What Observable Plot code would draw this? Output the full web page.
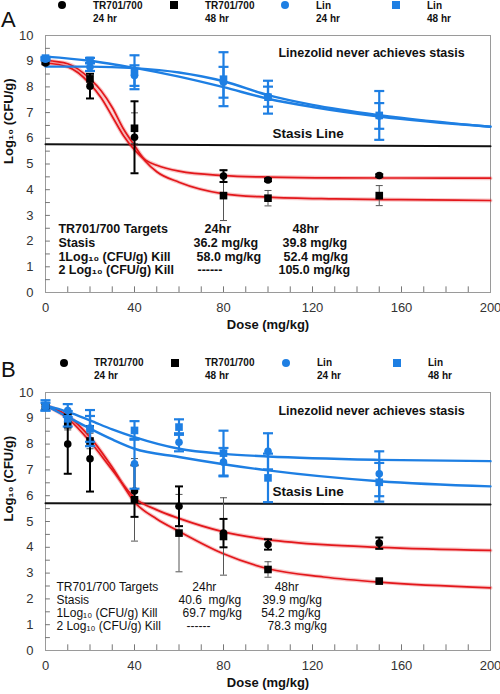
<!DOCTYPE html>
<html><head><meta charset="utf-8">
<script src="https://cdn.jsdelivr.net/npm/d3@7"></script>
<script src="https://cdn.jsdelivr.net/npm/@observablehq/plot@0.6"></script>
<style>
body{margin:0;background:#fff;font-family:"Liberation Sans",Arial,sans-serif;}
#wrap{position:relative;width:500px;height:694px;overflow:hidden;background:#fff;}
.abs{position:absolute;white-space:nowrap;}
.lg{font-size:10px;font-weight:bold;color:#111;line-height:13px;}
.pl{font-size:22px;color:#111;line-height:22px;}
</style></head><body><div id="wrap"></div>
<script>
// ---------- legend ----------
const legendSeries = ["TR701/700", "TR701/700", "Lin", "Lin"];
const legendTimes = ["24 hr", "48 hr", "24 hr", "48 hr"];
const legendSymbols = ["circle", "square", "circle", "square"];
const BLUE = "#1e7fe3", RED = "#e3171b";
const legendColors = ["#000", "#000", BLUE, BLUE];

// ---------- axes ----------
const xTicks = [0, 40, 80, 120, 160, 200];
const yTicks = [0, 1, 2, 3, 4, 5, 6, 7, 8, 9, 10];
const xMinor = d3.range(10, 200, 10);
const yMinor = d3.range(0.5, 10, 0.5);

// ---------- Panel A data ----------
const doseA = [0, 20, 40, 80, 100, 150];
const trA24 = [8.93, 8.03, 6.04, 4.53, 4.38, 4.55];
const trA24sd = [0.05, 0.48, 1.40, 0.23, 0.05, 0.05];
const trA48 = [9.02, 8.31, 6.39, 3.77, 3.67, 3.77];
const trA48sd = [0.05, 0.12, 0.6, 0.97, 0.30, 0.39];
const linA24 = [9.08, 8.77, 8.44, 8.18, 7.62, 6.87];
const linA24sd = [0.05, 0.15, 0.40, 0.60, 0.39, 0.50];
const linA48 = [9.12, 9.03, 8.57, 8.30, 7.60, 6.89];
const linA48sd = [0.05, 0.10, 0.66, 1.05, 0.64, 0.95];

const fitDoseA = [0, 10, 20, 25, 30, 35, 40, 45, 50, 60, 80, 100, 130, 160, 200];
const fitTrA24 = [8.93, 8.78, 8.12, 7.58, 6.85, 6.11, 5.55, 5.15, 4.95, 4.72, 4.55, 4.49, 4.46, 4.455, 4.45];
const fitTrA48 = [9.03, 8.90, 8.31, 7.85, 7.20, 6.37, 5.72, 5.10, 4.70, 4.29, 3.84, 3.71, 3.64, 3.61, 3.58];
const fitLinDoseA = [0, 20, 40, 60, 80, 100, 120, 150, 200];
const fitLinA24 = [9.18, 9.02, 8.74, 8.40, 7.99, 7.54, 7.22, 6.85, 6.45];
const fitLinA48 = [8.79, 8.79, 8.73, 8.56, 8.22, 7.68, 7.30, 6.90, 6.45];
const stasisA = [5.77, 5.69];

const tableA = [
  ["TR701/700 Targets", "24hr", "48hr"],
  ["Stasis", "36.2 mg/kg", "39.8 mg/kg"],
  ["1Log₁₀ (CFU/g) Kill", "58.0 mg/kg", "52.4 mg/kg"],
  ["2 Log₁₀ (CFU/g) Kill", "------", "105.0 mg/kg"]
];

// ---------- Panel B data ----------
const doseB = [0, 10, 20, 40, 60, 80, 100, 150];
const trB24 = [9.45, 8.00, 7.43, 6.18, 5.59, 4.55, 4.11, 4.16];
const trB24sd = [0.10, 1.15, 1.27, 1.00, 0.77, 0.55, 0.20, 0.22];
const trB48 = [9.45, 8.75, 8.12, 5.84, 4.55, 4.42, 3.14, 2.69];
const trB48sd = [0.10, 0.20, 0.30, 1.60, 1.50, 1.50, 0.30, 0.05];
const linB24 = [9.45, 9.30, 8.62, 7.24, 8.07, 7.30, 7.72, 6.85];
const linB24sd = [0.15, 0.25, 0.70, 0.97, 0.35, 0.55, 0.70, 0.87];
const linB48 = [9.50, 8.98, 8.59, 8.53, 8.66, 7.65, 6.69, 6.52];
const linB48sd = [0.20, 0.30, 0.50, 0.36, 0.30, 0.87, 0.94, 0.75];

const fitDoseB = [0, 10, 20, 30, 40, 50, 60, 80, 100, 125, 150, 200];
const fitTrB24 = [9.50, 9.00, 8.10, 7.00, 5.92, 5.45, 5.12, 4.60, 4.30, 4.10, 4.00, 3.88];
const fitTrB48 = [9.50, 9.10, 8.27, 7.10, 5.75, 5.10, 4.62, 3.75, 3.17, 2.85, 2.65, 2.43];
const fitLinDoseB = [0, 10, 20, 30, 40, 60, 80, 100, 150, 200];
const fitLinB48 = [9.50, 9.25, 8.92, 8.57, 8.27, 7.82, 7.62, 7.52, 7.39, 7.34];
const fitLinB24 = [9.50, 9.05, 8.60, 8.18, 7.82, 7.50, 7.22, 6.98, 6.56, 6.36];
const stasisB = [5.71, 5.66];

const tableB = [
  ["TR701/700 Targets", "24hr", "48hr"],
  ["Stasis", "40.6  mg/kg", "39.9 mg/kg"],
  ["1Log₁₀ (CFU/g) Kill", "69.7 mg/kg", "54.2 mg/kg"],
  ["2 Log₁₀ (CFU/g) Kill", "------", "78.3 mg/kg"]
];

const noteText = "Linezolid never achieves stasis";
const stasisText = "Stasis Line";
const xLabel = "Dose (mg/kg)";
const yLabel = "Log₁₀ (CFU/g)";

// ---------- helpers ----------
const cap = (w) => ({draw(ctx) { ctx.moveTo(-w, 0); ctx.lineTo(w, 0); }});
function rows(doses, vals, sds) {
  return doses.map((x, i) => ({x, v: vals[i], lo: vals[i] - sds[i], hi: vals[i] + sds[i]}));
}
function errMarks(d, color, width, capW) {
  return [
    Plot.ruleX(d, {x: "x", y1: "lo", y2: "hi", stroke: color, strokeWidth: width}),
    Plot.dot(d, {x: "x", y: "lo", r: 3, symbol: cap(capW), stroke: color, strokeWidth: width}),
    Plot.dot(d, {x: "x", y: "hi", r: 3, symbol: cap(capW), stroke: color, strokeWidth: width})
  ];
}
function curve(doses, vals) { return doses.map((x, i) => ({x, v: vals[i]})); }

function panel(cfg) {
  const tr24 = rows(cfg.dose, cfg.tr24, cfg.tr24sd);
  const tr48 = rows(cfg.dose, cfg.tr48, cfg.tr48sd);
  const l24 = rows(cfg.dose, cfg.lin24, cfg.lin24sd);
  const l48 = rows(cfg.dose, cfg.lin48, cfg.lin48sd);
  const redLines = [curve(cfg.fitDose, cfg.fit24), curve(cfg.fitDose, cfg.fit48)];
  const blueLines = [curve(cfg.fitLinDose, cfg.fitLin24), curve(cfg.fitLinDose, cfg.fitLin48)];
  const cells = [];
  cfg.table.forEach((r, i) => r.forEach((t, j) => cells.push({t, x: cfg.tableX[i][j], y: cfg.tableY[i]})));
  return Plot.plot({
    width: 500, height: cfg.height,
    marginTop: cfg.mt, marginBottom: cfg.mb, marginLeft: 45, marginRight: 10,
    x: {domain: [0, 200]}, y: {domain: [0, 10]},
    style: {fontFamily: "Liberation Sans, Arial, sans-serif", fontSize: "13px", color: "#333", background: "transparent"},
    marks: [
      Plot.frame({stroke: "#9a9a9a"}),
      Plot.ruleX(xMinor, {y1: 0, y2: 0.22, stroke: "#777"}),
      Plot.ruleY(yMinor, {x1: 0, x2: 2.2, stroke: "#777"}),
      Plot.axisX({ticks: xTicks, tickSize: 0, tickPadding: 10, label: null, fontSize: 13}),
      Plot.axisY({ticks: yTicks, tickSize: 0, tickPadding: 12, label: null, fontSize: 13}),
      Plot.text([xLabel], {text: d => d, frameAnchor: "bottom", dy: 36, fontWeight: "bold", fontSize: 13, fill: "#111"}),
      Plot.text([yLabel], {text: d => d, frameAnchor: "left", dx: -37, rotate: -90, fontWeight: "bold", fontSize: 13, fill: "#111"}),
      Plot.line([{x: 0, v: cfg.stasis[0]}, {x: 200, v: cfg.stasis[1]}], {x: "x", y: "v", stroke: "#111", strokeWidth: 2}),
      ...redLines.map(l => Plot.line(l, {x: "x", y: "v", curve: "monotone-x", stroke: RED, strokeWidth: 4, strokeOpacity: 0.25})),
      ...redLines.map(l => Plot.line(l, {x: "x", y: "v", curve: "monotone-x", stroke: RED, strokeWidth: 1.7})),
      ...blueLines.map(l => Plot.line(l, {x: "x", y: "v", curve: "monotone-x", stroke: BLUE, strokeWidth: 2.4})),
      ...errMarks(tr48, "#555", 1, 3.5),
      ...errMarks(tr24, "#000", 2, 4),
      Plot.dot(tr48, {x: "x", y: "v", symbol: "square", r: 4.3, fill: "#000"}),
      Plot.dot(tr24, {x: "x", y: "v", symbol: "circle", r: 3.8, fill: "#000"}),
      ...errMarks(l24, BLUE, 2.2, 5),
      ...errMarks(l48, BLUE, 2.2, 5),
      Plot.dot(l24, {x: "x", y: "v", symbol: "circle", r: 3.8, fill: BLUE}),
      Plot.dot(l48, {x: "x", y: "v", symbol: "square", r: 4.3, fill: BLUE}),
      Plot.text([noteText], {text: d => d, x: 104.7, y: 9.3, textAnchor: "start", fontWeight: "bold", fontSize: 12.5, fill: "#111"}),
      Plot.text([stasisText], {text: d => d, x: 102, y: 6.17, textAnchor: "start", fontWeight: "bold", fontSize: 13.5, fill: "#111"}),
      Plot.text(cells, {x: "x", y: "y", text: "t", textAnchor: "start", fontWeight: cfg.tableWeight, fontSize: cfg.tableSize, fill: "#111"})
    ]
  });
}

const wrap = document.getElementById("wrap");
function addDiv(cls, left, top, html) {
  const d = document.createElement("div");
  d.className = "abs " + cls; d.style.left = left + "px"; d.style.top = top + "px"; d.innerHTML = html;
  wrap.appendChild(d); return d;
}
function legend(y1, symX, txtX) {
  legendSeries.forEach((s, i) => {
    const sz = 8;
    const d = addDiv("", symX[i] - sz / 2, y1 - sz / 2, "");
    d.style.width = sz + "px"; d.style.height = sz + "px"; d.style.background = legendColors[i];
    if (legendSymbols[i] === "circle") d.style.borderRadius = "50%";
    addDiv("lg", txtX[i], y1 - 6.5, s);
    addDiv("lg", txtX[i], y1 + 6.5, legendTimes[i]);
  });
}

// Panel A
legend(5, [62, 174, 285, 396], [93, 205, 316, 427]);
addDiv("pl", 1, 9, "A");
const svgA = panel({
  height: 315, mt: 13, mb: 45,
  dose: doseA, tr24: trA24, tr24sd: trA24sd, tr48: trA48, tr48sd: trA48sd,
  lin24: linA24, lin24sd: linA24sd, lin48: linA48, lin48sd: linA48sd,
  fitDose: fitDoseA, fit24: fitTrA24, fit48: fitTrA48,
  fitLinDose: fitLinDoseA, fitLin24: fitLinA24, fitLin48: fitLinA48,
  stasis: stasisA, table: tableA, tableWeight: "bold", tableSize: 12.5,
  tableY: [2.48, 1.93, 1.37, 0.86],
  tableX: [[5.8, 71.5, 111], [5.8, 66.5, 106.5], [5.8, 67.9, 107], [5.8, 68.3, 104.7]]
});
svgA.style.position = "absolute"; svgA.style.left = "0px"; svgA.style.top = "22px";
wrap.appendChild(svgA);

// Panel B
legend(362.7, [64, 175, 286, 397], [94, 205, 317, 428]);
addDiv("pl", 1, 359, "B");
const svgB = panel({
  height: 314, mt: 12, mb: 44,
  dose: doseB, tr24: trB24, tr24sd: trB24sd, tr48: trB48, tr48sd: trB48sd,
  lin24: linB24, lin24sd: linB24sd, lin48: linB48, lin48sd: linB48sd,
  fitDose: fitDoseB, fit24: fitTrB24, fit48: fitTrB48,
  fitLinDose: fitLinDoseB, fitLin24: fitLinB24, fitLin48: fitLinB48,
  stasis: stasisB, table: tableB, tableWeight: "normal", tableSize: 12,
  tableY: [2.45, 1.94, 1.45, 0.94],
  tableX: [[4.9, 66, 103], [4.9, 59.8, 97.5], [4.9, 61.6, 97], [4.9, 63.4, 99.8]]
});
svgB.style.position = "absolute"; svgB.style.left = "0px"; svgB.style.top = "380px";
wrap.appendChild(svgB);
</script></body></html>
